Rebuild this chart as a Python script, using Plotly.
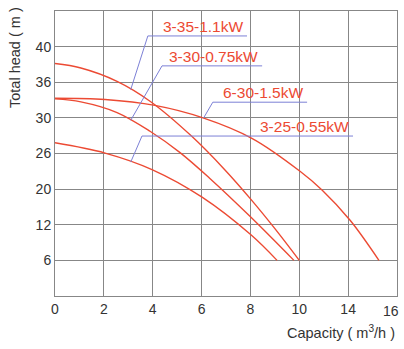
import numpy as np
import plotly.graph_objects as go

# Axis tick labels (gridlines are evenly spaced; labels are not linear)
capacity_ticks = [0, 2, 4, 6, 8, 10, 14, 16]
head_ticks = [0, 6, 12, 20, 26, 30, 36, 40]

# Pump curves: capacity (m3/h) vs total head (m)
names = ["3-35-1.1kW", "3-30-0.75kW", "6-30-1.5kW", "3-25-0.55kW"]

q_3_35 = [0, 1.06, 2.54, 3.89, 5.61, 6.92, 8.02, 9.01, 10.0]
h_3_35 = [38.1, 37.6, 36.1, 32.8, 27.9, 23.4, 17.7, 11.3, 6.0]

q_3_30 = [0, 1.06, 2.54, 3.89, 5.12, 6.34, 7.98, 9.78]
h_3_30 = [33.2, 32.7, 30.9, 28.5, 26.1, 21.8, 13.9, 6.0]

q_6_30 = [0, 2.05, 4.09, 6.06, 8.06, 10.06, 11.86, 14.08, 15.26]
h_6_30 = [33.3, 33.1, 32.1, 30.0, 27.7, 23.0, 19.8, 13.0, 6.0]

q_3_25 = [0, 2.05, 3.97, 6.02, 8.02, 9.09]
h_3_25 = [27.2, 26.05, 23.3, 18.2, 10.3, 6.0]

# Capacity at which each label's leader line meets its curve
leader_q = [3.1, 3.1, 6.08, 3.1]

curves = [(q_3_35, h_3_35), (q_3_30, h_3_30), (q_6_30, h_6_30), (q_3_25, h_3_25)]

pos_x = np.arange(len(capacity_ticks))
pos_y = np.arange(len(head_ticks))


def qpos(q):
    return np.interp(q, capacity_ticks, pos_x)


def hpos(h):
    return np.interp(h, head_ticks, pos_y)


RED = "#ec4a33"
BLUE = "#7c80d6"
GRID = "#878787"
FONT = "Liberation Sans, Arial, sans-serif"

fig = go.Figure()
for (q, h), name in zip(curves, names):
    fig.add_trace(go.Scatter(
        x=qpos(q), y=hpos(h), mode="lines", name=name,
        line=dict(color=RED, width=1.4, shape="spline", smoothing=1.0),
        hoverinfo="skip", showlegend=False,
    ))

# Leader lines: (elbow x, elbow/underline y, underline end x) in axis units
leaders = [(1.90, 7.30, 3.93), (2.19, 6.46, 4.24), (3.23, 5.44, 5.16), (1.78, 4.49, 6.10)]
shapes = []
annotations = []
for (q, h), name, lq, (ex, ey, endx) in zip(curves, names, leader_q, leaders):
    ax = float(qpos(lq))
    ay = float(np.interp(ax, qpos(q), hpos(h)))
    shapes.append(dict(type="line", xref="x", yref="y", x0=ax, y0=ay, x1=ex, y1=ey,
                       line=dict(color=BLUE, width=1)))
    shapes.append(dict(type="line", xref="x", yref="y", x0=ex, y0=ey, x1=endx, y1=ey,
                       line=dict(color=BLUE, width=1)))
    annotations.append(dict(x=endx, y=ey, xref="x", yref="y", text=name, showarrow=False,
                            xanchor="right", yanchor="bottom", xshift=-2, yshift=-1,
                            font=dict(family=FONT, size=15.5, color=RED)))

W, H = 404, 349
ML, MR, MT, MB = 55, 7, 11, 53
pw, ph = W - ML - MR, H - MT - MB


def paper_x(px):
    return (px - ML) / pw


def paper_y(py):
    return (H - MB - py) / ph


annotations.append(dict(x=paper_x(15), y=paper_y(58), xref="paper", yref="paper",
                        text="Total head ( m )", showarrow=False, textangle=-90,
                        xanchor="center", yanchor="middle",
                        font=dict(family=FONT, size=14.5, color="#333333")))
annotations.append(dict(x=paper_x(397), y=paper_y(332), xref="paper", yref="paper",
                        text="Capacity ( m<sup>3</sup>/h )", showarrow=False,
                        xanchor="right", yanchor="middle",
                        font=dict(family=FONT, size=14.5, color="#333333")))
annotations.append(dict(x=pos_x[-1], y=0, xref="x", yref="y", text=str(capacity_ticks[-1]),
                        showarrow=False, xanchor="center", yanchor="top", xshift=-6, yshift=-5,
                        font=dict(family=FONT, size=14, color="#333333")))

fig.update_layout(
    width=W, height=H,
    margin=dict(l=ML, r=MR, t=MT, b=MB),
    paper_bgcolor="white", plot_bgcolor="white",
    shapes=shapes, annotations=annotations,
    font=dict(family=FONT, size=14, color="#333333"),
    xaxis=dict(range=[0, 7], tickvals=list(pos_x[:-1]), ticktext=[str(t) for t in capacity_ticks[:-1]],
               showgrid=True, gridcolor=GRID, gridwidth=1, zeroline=False,
               showline=True, mirror=True, linecolor=GRID, linewidth=1,
               ticks="", fixedrange=True),
    yaxis=dict(range=[0, 8], tickvals=list(pos_y[1:]), ticktext=[str(t) for t in head_ticks[1:]],
               showgrid=True, gridcolor=GRID, gridwidth=1, zeroline=False,
               showline=True, mirror=True, linecolor=GRID, linewidth=1,
               ticks="", fixedrange=True),
)

fig.write_html("out.html")
